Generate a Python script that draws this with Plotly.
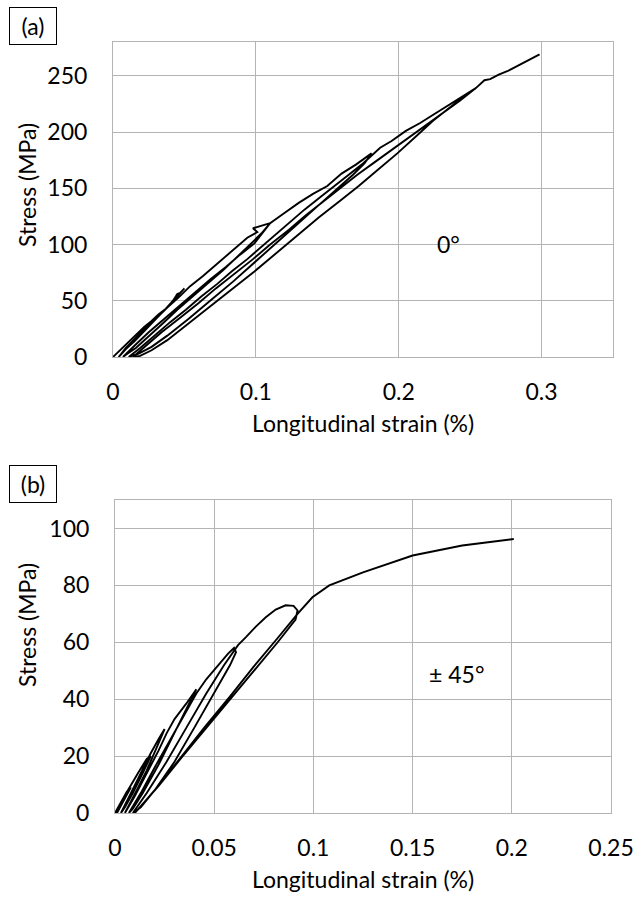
import plotly.graph_objects as go

# ---------------- (a) 0 degree: cyclic loading ----------------
a_strain = [
    0, 0.004, 0.008, 0.012, 0.017, 0.022, 0.027, 0.032, 0.037, 0.042, 0.045, 0.047, 0.050,
    0.046, 0.040, 0.034, 0.028, 0.021, 0.015, 0.009, 0.006, 0.004,
    0.009, 0.015, 0.022, 0.030, 0.038, 0.046, 0.054, 0.063, 0.071, 0.079, 0.087, 0.094, 0.101, 0.098, 0.110,
    0.104, 0.096, 0.087, 0.077, 0.066, 0.056, 0.045, 0.035, 0.025, 0.016, 0.010, 0.007,
    0.015, 0.025, 0.036, 0.047, 0.058, 0.068, 0.079, 0.089, 0.099, 0.110, 0.120, 0.130, 0.140, 0.150, 0.160, 0.170, 0.181,
    0.176, 0.168, 0.157, 0.144, 0.129, 0.114, 0.099, 0.084, 0.068, 0.053, 0.038, 0.027, 0.018, 0.011,
    0.019, 0.029, 0.040, 0.051, 0.062, 0.073, 0.083, 0.094, 0.104, 0.114, 0.124, 0.134, 0.145, 0.155, 0.165, 0.175,
    0.187, 0.195, 0.205, 0.215, 0.225, 0.235, 0.243, 0.249, 0.254,
    0.246, 0.236, 0.224, 0.212, 0.199, 0.185, 0.172, 0.159, 0.144, 0.129, 0.114, 0.099, 0.083, 0.067, 0.051, 0.038, 0.027, 0.019, 0.014,
    0.022, 0.034, 0.047, 0.060, 0.072, 0.085, 0.098, 0.110, 0.123, 0.135, 0.147, 0.159, 0.171, 0.183, 0.195, 0.207, 0.219, 0.231, 0.243, 0.254,
    0.260, 0.264, 0.270, 0.276, 0.282, 0.288, 0.294, 0.2986,
]
a_stress = [
    0, 5, 10, 15, 21, 27, 32, 38, 43, 50, 56, 57, 61,
    55, 47, 39, 31, 22, 14, 7, 3, 0,
    8, 16, 25, 34, 44, 53, 63, 72, 81, 90, 99, 106, 111, 114.5, 119,
    110, 100, 89, 77, 65, 54, 42, 30, 18, 8, 3, 0,
    10, 22, 34, 46, 58, 69, 80, 91, 101, 119, 128, 137, 145, 152, 163, 171, 181,
    172, 162, 150, 135, 118, 101, 84, 67, 50, 34, 19, 9, 3, 0,
    8, 19, 31, 42, 54, 65, 76, 87, 98, 109, 120, 131, 142, 152, 162, 172,
    186, 192, 201, 208, 216, 224, 230, 235, 239,
    232, 222, 210, 196, 181, 166, 152, 139, 124, 108, 92, 76, 60, 44, 28, 15, 6, 1, 0,
    9, 22, 35, 48, 61, 74, 87, 100, 113, 126, 138, 150, 162, 173, 184, 195, 206, 217, 228, 239,
    246, 247, 251, 254, 258, 262, 266, 269,
]

# ---------------- (b) +/-45 degree: cyclic loading ----------------
b_strain = [
    0, 0.003, 0.006, 0.008,
    0.005, 0.002, 0.001,
    0.004, 0.008, 0.012, 0.016, 0.018,
    0.014, 0.009, 0.005, 0.003,
    0.008, 0.013, 0.018, 0.022, 0.025,
    0.021, 0.016, 0.011, 0.007, 0.005,
    0.010, 0.016, 0.022, 0.026, 0.030, 0.036, 0.041,
    0.037, 0.030, 0.022, 0.014, 0.009, 0.007,
    0.013, 0.020, 0.028, 0.035, 0.041, 0.046, 0.052, 0.057, 0.060, 0.061,
    0.058, 0.050, 0.040, 0.030, 0.020, 0.013, 0.009,
    0.016, 0.026, 0.036, 0.046, 0.055, 0.062, 0.066, 0.071, 0.076, 0.081, 0.086, 0.090, 0.092, 0.091,
    0.082, 0.070, 0.058, 0.045, 0.033, 0.022, 0.014, 0.010,
    0.020, 0.032, 0.045, 0.058, 0.070, 0.082, 0.092, 0.0995, 0.108, 0.125, 0.150, 0.175, 0.201,
]
b_stress = [
    0, 4, 7.5, 9,
    5, 1.5, 0,
    5, 10, 14.5, 19, 20,
    14, 7, 2, 0,
    7, 14, 21, 26, 29.5,
    23, 15, 8, 2.5, 0,
    6, 14, 22, 28, 33, 38.5, 43.5,
    38, 28, 17, 7, 1.5, 0,
    7, 16, 26, 35, 42, 47, 52, 56, 58, 56.5,
    52, 42, 30, 18, 8, 2, 0,
    7, 18, 30, 42, 52, 59, 61.8, 65.5, 68.8, 71.5, 73, 72.8, 71.2, 68,
    60, 50, 40, 29, 19, 9.5, 3, 0,
    8, 18.5, 30, 41, 51.5, 61.5, 70, 75.8, 80, 84.6, 90.5, 94, 96.3,
]

W, H = 639, 903
FONT = "Lato"
GRID = "#b4b4b4"

def px(x):
    return x / W

def py(y):
    return 1 - y / H

fig = go.Figure()
fig.add_trace(go.Scatter(x=a_strain, y=a_stress, mode="lines",
                         line=dict(color="black", width=1.9), xaxis="x", yaxis="y",
                         showlegend=False, hoverinfo="skip"))
fig.add_trace(go.Scatter(x=b_strain, y=b_stress, mode="lines",
                         line=dict(color="black", width=1.9), xaxis="x2", yaxis="y2",
                         showlegend=False, hoverinfo="skip"))

axis_common = dict(showgrid=True, gridcolor=GRID, gridwidth=1, showline=True,
                   linecolor=GRID, linewidth=1, mirror=True, zeroline=False,
                   automargin=False,
                   ticks="", tickfont=dict(family=FONT, size=23, color="black"))

fig.update_layout(
    width=W, height=H,
    margin=dict(l=0, r=0, t=0, b=0, autoexpand=False),
    paper_bgcolor="white", plot_bgcolor="white",
    showlegend=False,
    xaxis=dict(domain=[px(113), px(613)], range=[0, 0.35], dtick=0.1, anchor="y",
               ticklabelstandoff=14, **axis_common),
    yaxis=dict(domain=[py(357), py(42)], range=[0, 280], dtick=50, anchor="x",
               ticklabelstandoff=20, **axis_common),
    xaxis2=dict(domain=[px(115), px(611)], range=[0, 0.25], dtick=0.05, anchor="y2",
                ticklabelstandoff=14, **axis_common),
    yaxis2=dict(domain=[py(813), py(500)], range=[0, 110], dtick=20, anchor="x2",
                ticklabelstandoff=20, **axis_common),
)

tf = dict(family=FONT, size=23, color="black")
ann = [
    dict(text="Longitudinal strain (%)", x=px(363), y=py(423), xref="paper", yref="paper",
         showarrow=False, font=tf, xanchor="center", yanchor="middle"),
    dict(text="Stress (MPa)", x=px(27), y=py(185), xref="paper", yref="paper",
         showarrow=False, font=tf, textangle=-90, xanchor="center", yanchor="middle"),
    dict(text="Longitudinal strain (%)", x=px(363), y=py(879), xref="paper", yref="paper",
         showarrow=False, font=tf, xanchor="center", yanchor="middle"),
    dict(text="Stress (MPa)", x=px(27), y=py(625), xref="paper", yref="paper",
         showarrow=False, font=tf, textangle=-90, xanchor="center", yanchor="middle"),
    dict(text="(a)", x=px(32.5), y=py(26), xref="paper", yref="paper",
         showarrow=False, font=tf, xanchor="center", yanchor="middle",
         width=46, height=36, bordercolor="black", borderwidth=1, borderpad=0),
    dict(text="(b)", x=px(32.5), y=py(484), xref="paper", yref="paper",
         showarrow=False, font=tf, xanchor="center", yanchor="middle",
         width=46, height=36, bordercolor="black", borderwidth=1, borderpad=0),
    dict(text="0°", x=0.235, y=100, xref="x", yref="y", showarrow=False, font=tf),
    dict(text="± 45°", x=0.172, y=49, xref="x2", yref="y2", showarrow=False, font=tf),
]
fig.update_layout(annotations=ann)

fig.write_html("out.html")
